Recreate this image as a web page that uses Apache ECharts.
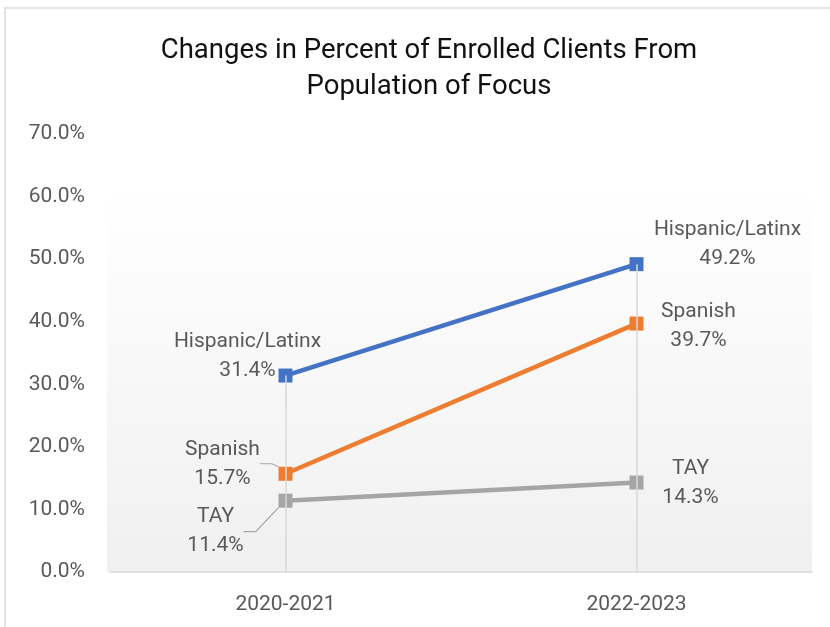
<!DOCTYPE html>
<html>
<head>
<meta charset="utf-8">
<script src="https://cdn.jsdelivr.net/npm/echarts@6/dist/echarts.min.js"></script>
<style>html,body{margin:0;padding:0;background:#fff}#c{width:830px;height:627px}</style>
</head>
<body>
<div id="c"></div>
<script>
const categories = ['2020-2021', '2022-2023'];
const seriesNames = ['Hispanic/Latinx', 'Spanish', 'TAY'];
const hispanic = [31.4, 49.2];
const spanish = [15.7, 39.7];
const tay = [11.4, 14.3];
const yMin = 0, yMax = 70, yStep = 10;

const colors = ['#4472C4', '#ED7D31', '#A5A5A5'];
// label moves (dx, dy) relative to the point, per series / per category
const labelMoves = [
  [[-38, -19], [91, -20]],
  [[-63, -10], [62, 3]],
  [[-70, 31], [54, 1]]
];
const showGuide = [[false, false], [true, false], [true, false]];
const values = [hispanic, spanish, tay];
const font = 'Roboto, "Liberation Sans", sans-serif';

const chart = echarts.init(document.getElementById('c'), null, {renderer: 'canvas'});

const lineSeries = values.map((arr, si) => ({
  name: seriesNames[si],
  type: 'line',
  z: 3,
  data: arr.map((v, ci) => ({
    value: v,
    labelLine: {show: showGuide[si][ci], lineStyle: {color: '#A6A6A6', width: 1.2}, length2: 12, smooth: false}
  })),
  color: colors[si],
  symbol: 'rect',
  symbolSize: 14,
  lineStyle: {width: 4.5, color: colors[si]},
  itemStyle: {color: colors[si]},
  label: {
    show: true,
    position: 'inside',
    align: 'center',
    verticalAlign: 'middle',
    formatter: p => seriesNames[si] + '\n' + p.value.toFixed(1) + '%',
    fontFamily: font,
    fontSize: 21,
    lineHeight: 29,
    color: '#595959'
  },
  labelLayout: p => ({dx: labelMoves[si][p.dataIndex][0], dy: labelMoves[si][p.dataIndex][1]})
}));

const dropSeries = {
  type: 'line',
  data: [],
  z: 1,
  silent: true,
  markLine: {
    silent: true,
    symbol: 'none',
    label: {show: false},
    lineStyle: {color: '#D9D9D9', width: 1.5, type: 'solid'},
    data: categories.map((c, i) => [
      {coord: [i, 0]},
      {coord: [i, Math.max(hispanic[i], spanish[i], tay[i])]}
    ])
  }
};

chart.setOption({
  backgroundColor: '#ffffff',
  animation: false,
  title: {
    text: 'Changes in Percent of Enrolled Clients From\nPopulation of Focus',
    left: 424,
    top: 28,
    textAlign: 'center',
    textStyle: {fontFamily: font, fontSize: 27.5, fontWeight: 'normal', color: '#111', lineHeight: 36}
  },
  graphic: [
    {type: 'rect', z: -10, silent: true, shape: {x: 5, y: 8, width: 840, height: 640},
     style: {fill: '#ffffff', stroke: '#D9D9D9', lineWidth: 1.5}},
    {type: 'rect', z: -5, silent: true, shape: {x: 107, y: 190, width: 705, height: 382},
     style: {fill: new echarts.graphic.LinearGradient(0, 0, 0, 1, [
       {offset: 0, color: '#FFFFFF'}, {offset: 1, color: '#F0F0F0'}])}}
  ],
  grid: {left: 110, right: 18, top: 134, bottom: 55, containLabel: false},
  xAxis: {
    type: 'category',
    data: categories,
    boundaryGap: true,
    axisLine: {show: true, lineStyle: {color: '#D9D9D9', width: 1.5}},
    axisTick: {show: false},
    splitLine: {show: false},
    axisLabel: {fontFamily: font, fontSize: 21, color: '#595959', margin: 22}
  },
  yAxis: {
    type: 'value',
    min: yMin, max: yMax, interval: yStep,
    axisLine: {show: false},
    axisTick: {show: false},
    splitLine: {show: false},
    axisLabel: {fontFamily: font, fontSize: 21, color: '#595959', margin: 25,
      formatter: v => v.toFixed(1) + '%'}
  },
  series: [dropSeries, ...lineSeries]
});
</script>
</body>
</html>
